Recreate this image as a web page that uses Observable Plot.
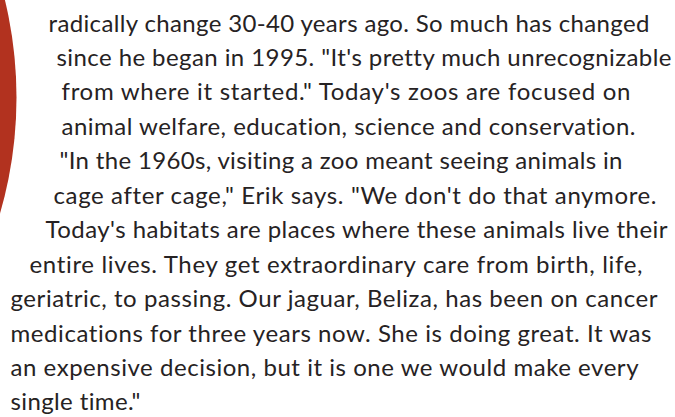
<!DOCTYPE html>
<html>
<head>
<meta charset="utf-8">
<script src="https://cdn.jsdelivr.net/npm/d3@7"></script>
<script src="https://cdn.jsdelivr.net/npm/@observablehq/plot@0.6"></script>
<style>
  html, body { margin: 0; padding: 0; background: #fff; overflow: hidden; }
  #chart svg { display: block; font-variant-ligatures: none; }
</style>
</head>
<body>
<div id="chart"></div>
<script>
// Text lines of the passage (one entry per printed line)
const lines = [
  "radically change 30-40 years ago. So much has changed",
  "since he began in 1995. \"It's pretty much unrecognizable",
  "from where it started.\" Today's zoos are focused on",
  "animal welfare, education, science and conservation.",
  "\"In the 1960s, visiting a zoo meant seeing animals in",
  "cage after cage,\" Erik says. \"We don't do that anymore.",
  "Today's habitats are places where these animals live their",
  "entire lives. They get extraordinary care from birth, life,",
  "geriatric, to passing. Our jaguar, Beliza, has been on cancer",
  "medications for three years now. She is doing great. It was",
  "an expensive decision, but it is one we would make every",
  "single time.\""
];
// Left and right edge of each printed line (text wraps around the red disc)
const lineStart = [48, 56, 61, 61, 59, 53, 45, 29, 10, 10, 10, 10];
const lineEnd   = [649, 671, 630, 635, 622, 656, 667, 642, 657, 651, 638, 140];
const lineIndex = lines.map((_, i) => i);

// Red disc on the left edge
const disc = [{cx: -400, cy: 97, r: 416}];

const fontSize = 24;
const firstBaseline = 31, lineGap = 34.45;
const rows = lines.map((t, i) => ({
  text: t,
  row: lineIndex[i],
  x0: lineStart[i],
  x1: lineEnd[i]
}));

const plot = Plot.plot({
  width: 675,
  height: 417,
  margin: 0,
  style: {background: "#ffffff", fontFamily: "Lato, 'Open Sans', sans-serif", overflow: "hidden"},
  x: {type: "linear", domain: [0, 675], range: [0, 675], axis: null},
  y: {type: "linear", domain: [0, 417], range: [0, 417], axis: null},
  r: {type: "identity"},
  marks: [
    Plot.dot(disc, {x: "cx", y: "cy", r: "r", fill: "#b2321f", stroke: "none"}),
    Plot.text(rows, {
      x: "x0",
      y: d => firstBaseline + d.row * lineGap - 0.32 * fontSize,
      text: "text",
      textAnchor: "start",
      lineAnchor: "middle",
      fontSize: fontSize,
      fill: "#262223",
      className: "passage"
    })
  ]
});

document.getElementById("chart").appendChild(plot);

// Fit each line to its printed width
const texts = plot.querySelectorAll(".passage text");
texts.forEach((t, i) => {
  const r = rows[i];
  if (!r) return;
  t.setAttribute("textLength", r.x1 - r.x0);
  t.setAttribute("lengthAdjust", "spacing");
});
</script>
</body>
</html>
